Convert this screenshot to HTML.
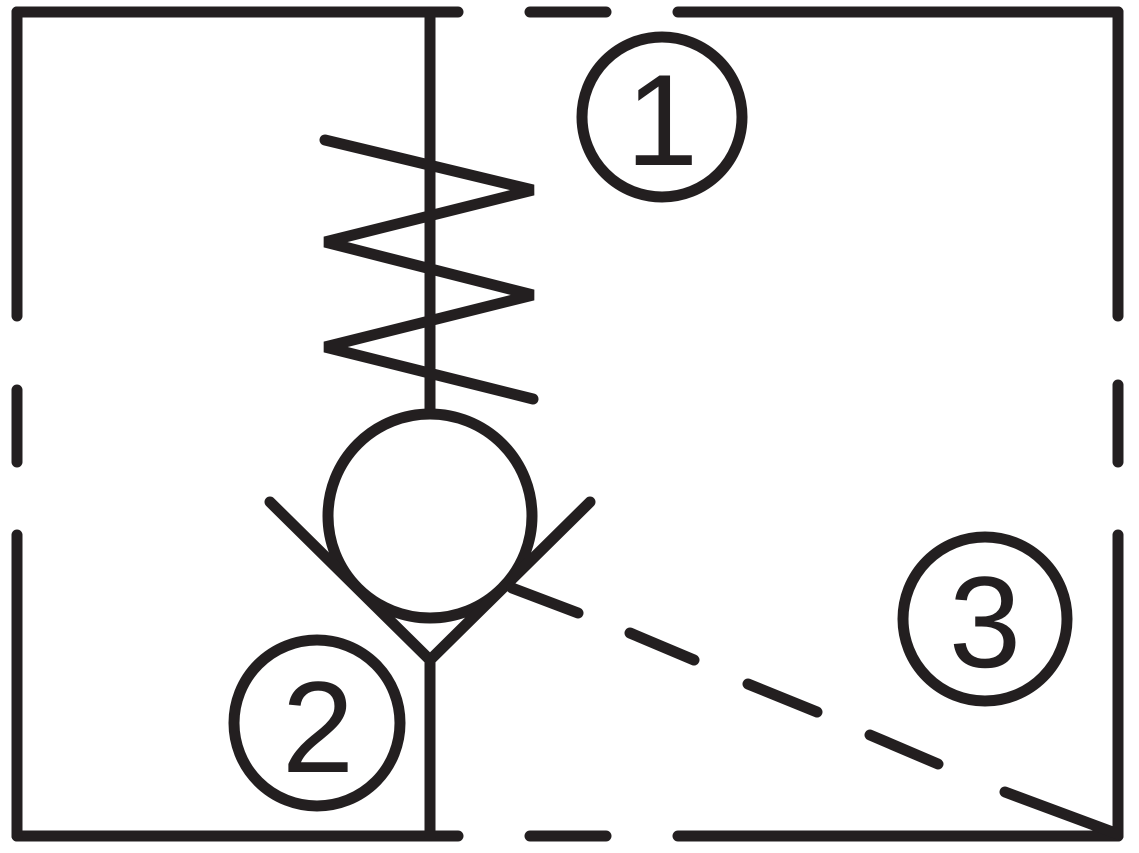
<!DOCTYPE html>
<html><head><meta charset="utf-8"><style>
html,body{margin:0;padding:0;background:#fff;}
svg{display:block;}
</style></head><body>
<svg width="1139" height="853" viewBox="0 0 1139 853" xmlns="http://www.w3.org/2000/svg">
<g fill="none" stroke="#231f20" stroke-width="11" stroke-linecap="round" stroke-linejoin="miter">
<line x1="17" y1="12" x2="458" y2="12"/>
<line x1="530" y1="12" x2="606" y2="12"/>
<line x1="678" y1="12" x2="1118" y2="12"/>
<line x1="17" y1="836" x2="458" y2="836"/>
<line x1="530" y1="836" x2="606" y2="836"/>
<line x1="678" y1="836" x2="1118" y2="836"/>
<line x1="17" y1="12" x2="17" y2="316"/>
<line x1="17" y1="390" x2="17" y2="462"/>
<line x1="17" y1="535" x2="17" y2="836"/>
<line x1="1118" y1="12" x2="1118" y2="316"/>
<line x1="1118" y1="385" x2="1118" y2="462"/>
<line x1="1118" y1="535" x2="1118" y2="836"/>
<line x1="430" y1="12" x2="430" y2="412"/>
<line x1="430" y1="660" x2="430" y2="836"/>
<polyline points="325,140 533,190 325,242 533,295 325,347 533,399"/>
<circle cx="430" cy="516" r="102"/>
<polyline points="270,502 430,660 590,502"/>
<line x1="512" y1="588" x2="578" y2="613"/>
<line x1="630" y1="633" x2="694" y2="660"/>
<line x1="748" y1="684" x2="817" y2="712"/>
<line x1="870" y1="735" x2="938" y2="764"/>
<line x1="1005" y1="792" x2="1118" y2="834"/>
<circle cx="662" cy="117" r="80"/>
<circle cx="317" cy="723" r="83"/>
<circle cx="985" cy="619" r="82"/>
</g>
<g fill="#231f20" font-family="Liberation Sans, sans-serif" font-size="130" text-anchor="middle">
<text x="662" y="165">1</text>
<text x="318" y="772">2</text>
<text x="985" y="667">3</text>
</g>
</svg>
</body></html>
